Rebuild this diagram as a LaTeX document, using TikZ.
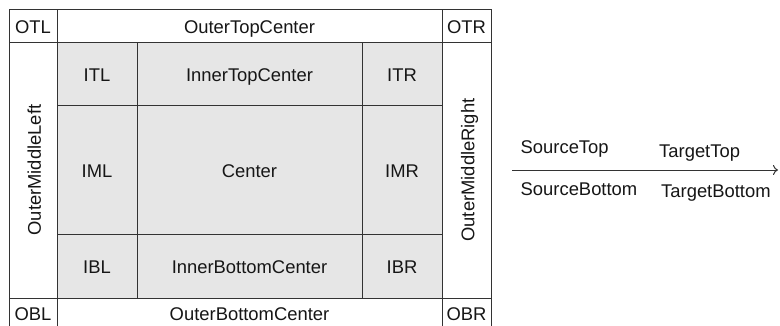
\documentclass[tikz,border=0pt]{standalone}
\usepackage{fontspec}
\setmainfont{Liberation Sans}
\usetikzlibrary{arrows.meta}
\definecolor{linec}{HTML}{333333}
\definecolor{innerfill}{HTML}{E6E6E6}
\definecolor{textc}{HTML}{161616}
\begin{document}
\begin{tikzpicture}[x=1pt,y=-1pt,
  cell/.style={draw=linec,line width=1pt,inner sep=0pt,text=textc,
    font=\fontsize{18.4}{21}\selectfont,text height=15.5pt,text depth=0pt},
  outercell/.style={cell,fill=white},
  innercell/.style={cell,fill=innerfill},
  lbl/.style={anchor=base west,inner sep=0pt,text=textc,font=\fontsize{18.4}{21}\selectfont}]
\clip (0,0) rectangle (780,325);
\fill[white] (0,0) rectangle (780,325);
% outer ring
\node[outercell,minimum width=48pt,minimum height=33pt] (OTL) at (33,25.5) {OTL};
\node[outercell,minimum width=385pt,minimum height=33pt] (OTC) at (249.5,25.5) {OuterTopCenter};
\node[outercell,minimum width=49pt,minimum height=33pt] (OTR) at (466.5,25.5) {OTR};
\node[outercell,rotate=90,minimum width=256pt,minimum height=48pt] (OML) at (33,170) {OuterMiddleLeft};
\node[outercell,rotate=90,minimum width=256pt,minimum height=49pt] (OMR) at (466.5,170) {OuterMiddleRight};
\node[outercell,minimum width=48pt,minimum height=30pt] (OBL) at (33,313) {OBL};
\node[outercell,minimum width=385pt,minimum height=30pt] (OBC) at (249.5,313) {OuterBottomCenter};
\node[outercell,minimum width=49pt,minimum height=30pt] (OBR) at (466.5,313) {OBR};
% inner grid
\node[innercell,minimum width=80pt,minimum height=63pt] (ITL) at (97,73.5) {ITL};
\node[innercell,minimum width=225pt,minimum height=63pt] (ITC) at (249.5,73.5) {InnerTopCenter};
\node[innercell,minimum width=80pt,minimum height=63pt] (ITR) at (402,73.5) {ITR};
\node[innercell,minimum width=80pt,minimum height=129pt] (IML) at (97,169.5) {IML};
\node[innercell,minimum width=225pt,minimum height=129pt] (CEN) at (249.5,169.5) {Center};
\node[innercell,minimum width=80pt,minimum height=129pt] (IMR) at (402,169.5) {IMR};
\node[innercell,minimum width=80pt,minimum height=64pt] (IBL) at (97,266) {IBL};
\node[innercell,minimum width=225pt,minimum height=64pt] (IBC) at (249.5,266) {InnerBottomCenter};
\node[innercell,minimum width=80pt,minimum height=64pt] (IBR) at (402,266) {IBR};
% connector with labels
\coordinate (src) at (512,170);
\coordinate (tgt) at (778,170);
\draw[linec,line width=1pt,-{To[length=5pt,width=10pt]}] (src) -- (tgt);
\node[lbl] (ST) at (520.5,153.5) {SourceTop};
\node[lbl] (TT) at (659,157) {TargetTop};
\node[lbl] (SB) at (520.5,195) {SourceBottom};
\node[lbl] (TB) at (661,197) {TargetBottom};
\end{tikzpicture}
\end{document}
